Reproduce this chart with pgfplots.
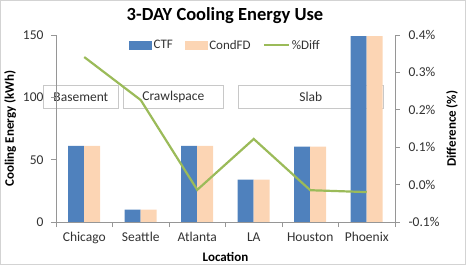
\documentclass[border=0pt]{standalone}
\usepackage{fontspec}
\setmainfont{Carlito}
\usepackage{pgfplots}
\pgfplotsset{compat=1.18}
\definecolor{ctf}{RGB}{79,129,189}
\definecolor{cfd}{RGB}{252,213,180}
\definecolor{dif}{RGB}{155,187,89}
\definecolor{axgray}{RGB}{150,150,150}
\definecolor{txt}{RGB}{50,50,50}
\definecolor{boxgray}{RGB}{200,200,200}
\pgfplotsset{
  common/.style={
    scale only axis, width=339pt, height=187pt,
    at={(56pt,43pt)}, anchor=south west,
    xmin=-0.5, xmax=5.5,
    tick align=outside,
    every tick/.style={axgray, line width=0.6pt},
    axis line style={axgray, line width=0.8pt},
    tick label style={font=\fontsize{13.5}{15}\selectfont, text=txt},
    label style={font=\fontsize{13}{15}\selectfont\bfseries, text=black},
    /pgf/number format/assume math mode=true,
  }
}
\begin{document}
\begin{tikzpicture}[x=1pt,y=1pt]
\useasboundingbox (0,0) rectangle (466,265);
\draw[boxgray!80, line width=1pt] (0.5,0.5) rectangle (465.5,264.5);
\node[font=\fontsize{18.5}{20}\selectfont\bfseries] at (225,249) {3-DAY Cooling\ Energy Use};
\begin{scope}[every node/.style={draw=boxgray, fill=white, line width=0.7pt, inner sep=0pt, anchor=south west, font=\fontsize{13.5}{15}\selectfont, text=txt}]
\node[minimum width=75pt, minimum height=23pt] at (43,156) {Basement};
\node[minimum width=100pt, minimum height=23pt] at (123,156) {Crawlspace};
\node[minimum width=145pt, minimum height=23pt] at (238,156) {Slab};
\end{scope}
\begin{axis}[common,
  ymin=0, ymax=150, ytick={0,50,100,150},
  axis x line*=bottom, axis y line*=left,
  xtick={0,1,2,3,4,5},
  xticklabels={Chicago,Seattle,Atlanta,LA,Houston,Phoenix},
  major x tick style={draw=none},
  minor xtick={-0.5,0.5,1.5,2.5,3.5,4.5,5.5},
  minor tick length=5pt, major tick length=5pt,
  yticklabel style={xshift=-4pt},
  xticklabel style={yshift=-2pt},
  xlabel={Location}, ylabel={Cooling Energy (kWh)},
  xlabel style={yshift=-1pt},
  ybar=0pt, bar width=16pt,
]
\addplot[fill=ctf, draw=none] coordinates {(0,61) (1,10) (2,61) (3,34) (4,60.5) (5,149)};
\addplot[fill=cfd, draw=none] coordinates {(0,61) (1,10) (2,61) (3,34) (4,60.5) (5,149)};
\end{axis}
\begin{axis}[common,
  ymin=-0.1, ymax=0.4, ytick={-0.1,0,0.1,0.2,0.3,0.4},
  yticklabels={-0.1\%,0.0\%,0.1\%,0.2\%,0.3\%,0.4\%},
  axis x line=none, axis y line*=right,
  major tick length=5pt,
  yticklabel style={xshift=5pt},
  ylabel={Difference (\%)},
  legend style={at={(0.5,0.995)}, anchor=north, draw=none, fill=none,
    font=\fontsize{13}{15}\selectfont, text=txt, legend columns=3,
    /tikz/every even column/.append style={column sep=10pt}},
  legend cell align=left,
]
\addlegendimage{legend image code/.code={\fill[ctf] (0pt,-4pt) rectangle (22pt,4pt);}}
\addlegendentry{CTF}
\addlegendimage{legend image code/.code={\fill[cfd] (0pt,-4pt) rectangle (22pt,4pt);}}
\addlegendentry{CondFD}
\addplot[dif, line width=2.2pt, mark=none, legend image code/.code={\draw[dif, line width=2.2pt] (0pt,0pt) -- (25pt,0pt);}]
  coordinates {(0,0.341) (1,0.226) (2,-0.014) (3,0.122) (4,-0.015) (5,-0.020)};
\addlegendentry{\%Diff}
\end{axis}
\end{tikzpicture}
\end{document}
